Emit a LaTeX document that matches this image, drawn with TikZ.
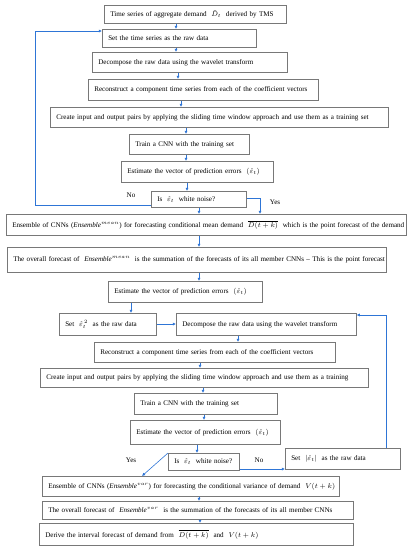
\documentclass[tikz,border=0pt]{standalone}
\usepackage{fontspec}
\setmainfont{Liberation Serif}
\usetikzlibrary{arrows.meta,calc}
\definecolor{boxgray}{RGB}{120,120,120}
\definecolor{arrblue}{RGB}{46,117,214}
\newcommand{\fs}{\fontsize{7.1}{8.5}\selectfont}
\begin{document}
\begin{tikzpicture}[x=1pt,y=-1pt,
  box/.style={draw=boxgray, line width=0.6pt, anchor=north west, inner xsep=6pt, inner ysep=0pt, align=left, font=\fs},
  arr/.style={draw=arrblue, line width=0.6pt, -{Latex[length=3.2pt,width=3.2pt]}},
  lab/.style={font=\fs, inner sep=0pt}]
\useasboundingbox (0,0) rectangle (411,550);
% boxes
\node[box, text width=170pt, minimum height=18pt] (b1) at (104,5) {\mbox{Time series of aggregate demand\ \ $\tilde{D}_t$\ \ derived by TMS}};
\node[box, text width=142pt, minimum height=18pt] (b2) at (102,29) {\mbox{Set the time series as the raw data}};
\node[box, text width=183pt, minimum height=20pt] (b3) at (92,52) {\mbox{Decompose the raw data using the wavelet transform}};
\node[box, text width=218pt, minimum height=21pt] (b4) at (88,79) {\mbox{Reconstruct a component time series from each of the coefficient vectors}};
\node[box, text width=326pt, minimum height=20pt] (b5) at (50,107) {\mbox{Create input and output pairs by applying the sliding time window approach and use them as a training set}};
\node[box, text width=108pt, minimum height=20pt] (b6) at (129,134) {\mbox{Train a CNN with the training set}};
\node[box, text width=140pt, minimum height=21pt] (b7) at (121,161) {\mbox{Estimate the vector of prediction errors\ \ $(\hat{\varepsilon}_t)$}};
\node[box, text width=83pt, minimum height=16pt] (b8) at (151,191) {\mbox{Is\ \ $\hat{\varepsilon}_t$\ \ white noise?}};
\node[box, text width=388pt, minimum height=21pt] (b9) at (6,214) {\mbox{Ensemble of CNNs ($\mathit{Ensemble}^{mean}$) for forecasting conditional mean demand\ \ $\overline{D(t+k)}$\ \ which is the point forecast of the demand}};
\node[box, text width=367pt, minimum height=25pt] (b10) at (7,247) {\mbox{The overall forecast of\ \ $\mathit{Ensemble}^{mean}$\ \ is the summation of the forecasts of its all member CNNs -- This is the point forecast}};
\node[box, text width=142pt, minimum height=21pt] (b11) at (108,281) {\mbox{Estimate the vector of prediction errors\ \ $(\hat{\varepsilon}_t)$}};
\node[box, text width=85pt, minimum height=22pt] (b12) at (59,313) {\mbox{Set\ \ $\hat{\varepsilon}_t^{\,2}$\ \ as the raw data}};
\node[box, text width=168pt, minimum height=22pt] (b13) at (176,313) {\mbox{Decompose the raw data using the wavelet transform}};
\node[box, text width=229pt, minimum height=20pt] (b14) at (94,342) {\mbox{Reconstruct a component time series from each of the coefficient vectors}};
\node[box, text width=316pt, minimum height=19pt] (b15) at (40,368) {\mbox{Create input and output pairs by applying the sliding time window approach and use them as a training}};
\node[box, text width=131pt, minimum height=21pt] (b16) at (134,393) {\mbox{Train a CNN with the training set}};
\node[box, text width=138pt, minimum height=24pt] (b17) at (130,420) {\mbox{Estimate the vector of prediction errors\ \ $(\hat{\varepsilon}_t)$}};
\node[box, text width=59pt, minimum height=17pt] (b18) at (168,453) {\mbox{Is\ \ $\hat{\varepsilon}_t$\ \ white noise?}};
\node[box, text width=103pt, minimum height=21pt] (bs) at (285,448) {\mbox{Set\ \ $|\hat{\varepsilon}_t|$\ \ as the raw data}};
\node[box, text width=285pt, minimum height=20pt] (b19) at (42,476) {\mbox{Ensemble of CNNs ($\mathit{Ensemble}^{var}$) for forecasting the conditional variance of demand\ \ $V(t+k)$}};
\node[box, text width=299pt, minimum height=18pt] (b20) at (42,501) {\mbox{The overall forecast of\ \ $\mathit{Ensemble}^{var}$\ \ is the summation of the forecasts of its all member CNNs}};
\node[box, text width=302pt, minimum height=22pt] (b21) at (39,523) {\mbox{Derive the interval forecast of demand from\ \ $\overline{D(t+k)}$\ \ and\ \ $V(t+k)$}};
% column coordinates
\coordinate (c1) at (176,0);
\coordinate (c3) at (178,0);
\coordinate (c4) at (181,0);
\coordinate (c5) at (186,0);
\coordinate (c7) at (187,0);
\coordinate (c8) at (199,0);
\coordinate (c11) at (131,0);
\coordinate (c13) at (238,0);
\coordinate (c14) at (200,0);
\coordinate (c15) at (203,0);
\coordinate (c16) at (204,0);
\coordinate (c17) at (197,0);
\coordinate (cl) at (35,0);
\coordinate (cy) at (260,0);
\coordinate (cr) at (386,0);
\coordinate (r2) at (0,31);
\coordinate (r8) at (0,205);
\coordinate (r8y) at (0,198);
\coordinate (r12) at (0,324);
\coordinate (r13) at (0,315);
\coordinate (r18) at (0,469);
\coordinate (d1) at (168,453);
\coordinate (d2) at (142,476);
% connectors
\draw[arr] (c1 |- b1.south) -- (c1 |- b2.north);
\draw[arr] (c1 |- b2.south) -- (c1 |- b3.north);
\draw[arr] (c3 |- b3.south) -- (c3 |- b4.north);
\draw[arr] (c4 |- b4.south) -- (c4 |- b5.north);
\draw[arr] (c5 |- b5.south) -- (c5 |- b6.north);
\draw[arr] (c5 |- b6.south) -- (c5 |- b7.north);
\draw[arr] (c7 |- b7.south) -- (c7 |- b8.north);
\draw[arr] (c8 |- b8.south) -- (c8 |- b9.north);
\draw[arr] (c8 |- b9.south) -- (c8 |- b10.north);
\draw[arr] (c8 |- b10.south) -- (c8 |- b11.north);
\draw[arr] (c11 |- b11.south) -- (c11 |- b12.north);
\draw[arr] (b12.east |- r12) -- (b13.west |- r12);
\draw[arr] (c13 |- b13.south) -- (c13 |- b14.north);
\draw[arr] (c14 |- b14.south) -- (c14 |- b15.north);
\draw[arr] (c15 |- b15.south) -- (c15 |- b16.north);
\draw[arr] (c16 |- b16.south) -- (c16 |- b17.north);
\draw[arr] (c17 |- b17.south) -- (c17 |- b18.north);
\draw[arr] (c8 |- b19.south) -- (c8 |- b20.north);
\draw[arr] (c14 |- b20.south) -- (c14 |- b21.north);
% No loop (first)
\draw[arr] (b8.west |- r8) -- (cl |- r8) -- (cl |- r2) -- (b2.west |- r2);
% Yes (first)
\draw[arr] (b8.east |- r8y) -- (cy |- r8y) -- (cy |- b9.north);
% Yes (second), diagonal
\draw[arr] (d1) -- (d2);
% No (second)
\draw[arr] (b18.east |- r18) -- (bs.west |- r18);
% feedback loop (second)
\draw[arr] (cr |- bs.north) -- (cr |- r13) -- (b13.east |- r13);
% labels
\node[lab] (no1) at (131,195) {No};
\node[lab] (yes1) at (275,202) {Yes};
\node[lab] (yes2) at (131,460) {Yes};
\node[lab] (no2) at (259,460) {No};
\end{tikzpicture}
\end{document}
